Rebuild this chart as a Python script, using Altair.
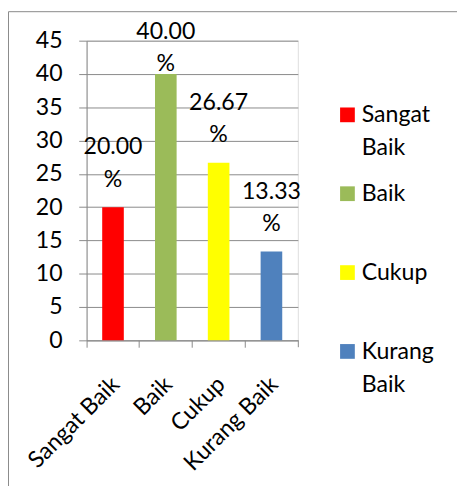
import altair as alt
import pandas as pd

categories = ["Sangat Baik", "Baik", "Cukup", "Kurang Baik"]
values = [20.00, 40.00, 26.67, 13.33]
colors = ["#FF0000", "#9BBB59", "#FFFF00", "#4F81BD"]
y_ticks = [0, 5, 10, 15, 20, 25, 30, 35, 40, 45]

df = pd.DataFrame({"kategori": categories, "nilai": values})
one = pd.DataFrame({"k": [0]})

FONT = "Lato"
GRID = "#898989"
FS = 23.5

color_scale = alt.Scale(domain=categories, range=colors)

x_axis = alt.Axis(
    title=None, labelAngle=-45, labelAlign="right", labelBaseline="middle",
    labelFont=FONT, labelFontSize=FS, labelColor="black",
    bandPosition=0, labelOffset=3, labelPadding=34,
    tickSize=7, tickColor=GRID, domainColor=GRID, grid=False,
)
x_scale = alt.Scale(paddingInner=0, paddingOuter=0)

y_enc = alt.Y(
    "nilai:Q",
    scale=alt.Scale(domain=[0, 45], nice=False),
    axis=alt.Axis(
        title=None, values=y_ticks, labelFont=FONT, labelFontSize=FS,
        labelColor="black", labelPadding=17, tickSize=8, tickColor=GRID,
        domainColor=GRID, gridColor=GRID, gridWidth=1, grid=True,
        labelOverlap=False,
    ),
)

bars = alt.Chart(df).mark_bar(width=22).encode(
    x=alt.X("kategori:N", sort=categories, scale=x_scale, axis=x_axis),
    y=y_enc,
    color=alt.Color("kategori:N", sort=categories, scale=color_scale, legend=None),
)

labels = alt.Chart(df).transform_calculate(
    teks="format(datum.nilai, '.2f') + '\\n%'",
    pos="min(datum.nilai, 37.3)",
).mark_text(
    lineBreak="\n", baseline="alphabetic", dy=-54, fontSize=FS, font=FONT,
    color="black", lineHeight=33,
).encode(
    x=alt.X("kategori:N", sort=categories, scale=x_scale, axis=x_axis),
    y=alt.Y("pos:Q", scale=alt.Scale(domain=[0, 45], nice=False), axis=None),
    text="teks:N",
)

legend_y = alt.Y(
    "kategori:N", sort=categories,
    scale=alt.Scale(domain=categories, range=[75.5, 316.3], padding=0),
    axis=None,
)

legend_sym = alt.Chart(df).mark_square(size=225, opacity=1, strokeWidth=0).encode(
    x=alt.value(265.5),
    y=legend_y,
    color=alt.Color("kategori:N", sort=categories, scale=color_scale, legend=None),
)

legend_txt = alt.Chart(df).mark_text(
    align="left", baseline="alphabetic", dy=7.5, lineBreak=" ", lineHeight=33.3,
    fontSize=FS, font=FONT, color="black",
).encode(
    x=alt.value(280),
    y=legend_y,
    text="kategori:N",
)

border = alt.Chart(one).mark_rect(filled=False, stroke=GRID, strokeWidth=1).encode(
    x=alt.value(-79.5), x2=alt.value(700), y=alt.value(-29.5), y2=alt.value(700)
)

edge_tick = alt.Chart(one).mark_rule(color=GRID).encode(
    x=alt.value(215.5), y=alt.value(305), y2=alt.value(312)
)

chart = alt.layer(border, bars, labels, legend_sym, legend_txt, edge_tick).resolve_scale(
    y="independent"
).properties(
    width=215, height=305,
    padding={"left": 80, "top": 29, "right": 162, "bottom": 144},
    autosize=alt.AutoSizeParams(type="none"),
).configure_view(strokeWidth=0).configure(background="white")

chart.save("out.html", embed_options={"renderer": "svg", "actions": False})
